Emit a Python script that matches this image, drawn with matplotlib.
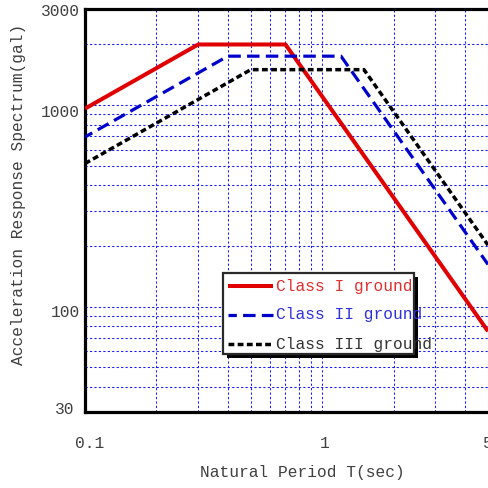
import matplotlib
matplotlib.use("Agg")
import matplotlib.pyplot as plt
from matplotlib.lines import Line2D
from matplotlib.patches import Rectangle
from matplotlib.transforms import ScaledTranslation

plt.rcParams['lines.scale_dashes'] = False
FONT = ['Liberation Mono', 'DejaVu Sans Mono']
FS = 11.7
GRAY = '#404040'

# ---- data ----
periods_I = [0.1, 0.3, 0.7, 5.0]
accel_I = [961, 2000, 2000, 75.5]
periods_II = [0.1, 0.4, 1.2, 5.0]
accel_II = [695, 1750, 1750, 162]
periods_III = [0.1, 0.5, 1.5, 5.0]
accel_III = [513, 1500, 1500, 202]
series_labels = ['Class I ground', 'Class II ground', 'Class III ground']
x_ticks = [0.1, 1, 5]
x_tick_labels = ['0.1', '1', '5']
y_ticks = [3000, 1000, 100, 30]
y_tick_labels = ['3000', '1000', '100', '30']
x_label = 'Natural Period T(sec)'
y_label = 'Acceleration Response Spectrum(gal)'

W = 488.0
fig = plt.figure(figsize=(4.88, 4.88), dpi=100)
ax = fig.add_axes([85 / W, (W - 412) / W, (W - 85) / W, (412 - 9) / W])

colors = ['#e00000', '#0000cc', '#000000']
styles = [dict(lw=2.9, ls='-'),
          dict(lw=2.3, ls=(3, (9.0, 4.5))),
          dict(lw=2.5, ls=(0, (4.2, 2.4)))]
for (px, py), c, st in zip([(periods_I, accel_I), (periods_II, accel_II),
                            (periods_III, accel_III)], colors, styles):
    ax.plot(px, py, color=c, linewidth=st['lw'], linestyle=st['ls'],
            solid_capstyle='butt', dash_capstyle='butt', zorder=3)

ax.set_xscale('log')
ax.set_yscale('log')
ax.set_xlim(0.1, 5)
ax.set_ylim(30, 3000)
ax.set_xticks(x_ticks)
ax.set_yticks(y_ticks)
ax.xaxis.set_minor_locator(matplotlib.ticker.LogLocator(base=10, subs=range(2, 10), numticks=20))
ax.yaxis.set_minor_locator(matplotlib.ticker.LogLocator(base=10, subs=range(2, 10), numticks=20))
ax.tick_params(which='both', length=0, labelbottom=False, labelleft=False)
ax.grid(True, which='both', color='#1a1aff', linestyle=(0, (1.6, 1.6)), linewidth=0.75, zorder=1)
ax.set_axisbelow(True)

for side in ['left', 'bottom', 'top']:
    ax.spines[side].set_linewidth(2.3)
    ax.spines[side].set_color('black')
ax.spines['right'].set_visible(False)

# tick labels (placed with the axes' own scales, nudged in pixels)
def px_off(dx, dy):
    return ScaledTranslation(dx / 100.0, -dy / 100.0, fig.dpi_scale_trans)

y_off = [(0, 3), (0, 7), (0, 6), (-6, -3)]
for v, lab, (dx, dy) in zip(y_ticks, y_tick_labels, y_off):
    ax.text(0, v, lab, transform=ax.get_yaxis_transform() + px_off(-5 + dx, dy),
            ha='right', va='center', family=FONT, fontsize=FS, color=GRAY, clip_on=False)
x_off = [5, 3, 0]
for v, lab, dx in zip(x_ticks, x_tick_labels, x_off):
    ax.text(v, 0, lab, transform=ax.get_xaxis_transform() + px_off(dx, 31),
            ha='center', va='center', family=FONT, fontsize=FS, color=GRAY, clip_on=False)

fig.text(302 / W, 1 - 473 / W, x_label, ha='center', va='center',
         family=FONT, fontsize=FS, color=GRAY)
fig.text(19 / W, 1 - 194 / W, y_label, ha='center', va='center', rotation=90,
         family=FONT, fontsize=FS, color=GRAY)

# legend, drawn by hand to match the original box
def fx(p):
    return p / W

def fy(p):
    return 1 - p / W

bx0, by0, bx1, by1 = 223, 273, 414, 354
fig.add_artist(Rectangle((fx(bx0 + 4), fy(by1 + 4)), fx(bx1 - bx0), (by1 - by0) / W,
                         transform=fig.transFigure, facecolor='black', edgecolor='black',
                         linewidth=0, zorder=5))
fig.add_artist(Rectangle((fx(bx0), fy(by1)), fx(bx1 - bx0), (by1 - by0) / W,
                         transform=fig.transFigure, facecolor='white', edgecolor='#2a2a2a',
                         linewidth=1.6, zorder=6))
text_colors = ['#e03030', '#3030e0', '#333333']
ys = [286, 315, 344]
for lab, c, st, tc, yy in zip(series_labels, colors, styles, text_colors, ys):
    fig.add_artist(Line2D([fx(228), fx(273)], [fy(yy), fy(yy)], transform=fig.transFigure,
                          color=c, linewidth=st['lw'], linestyle=st['ls'],
                          solid_capstyle='butt', dash_capstyle='butt', zorder=7))
    fig.text(fx(276), fy(yy), lab, ha='left', va='center', family=FONT,
             fontsize=FS, color=tc, zorder=8)

fig.savefig('out.png', dpi=100)
